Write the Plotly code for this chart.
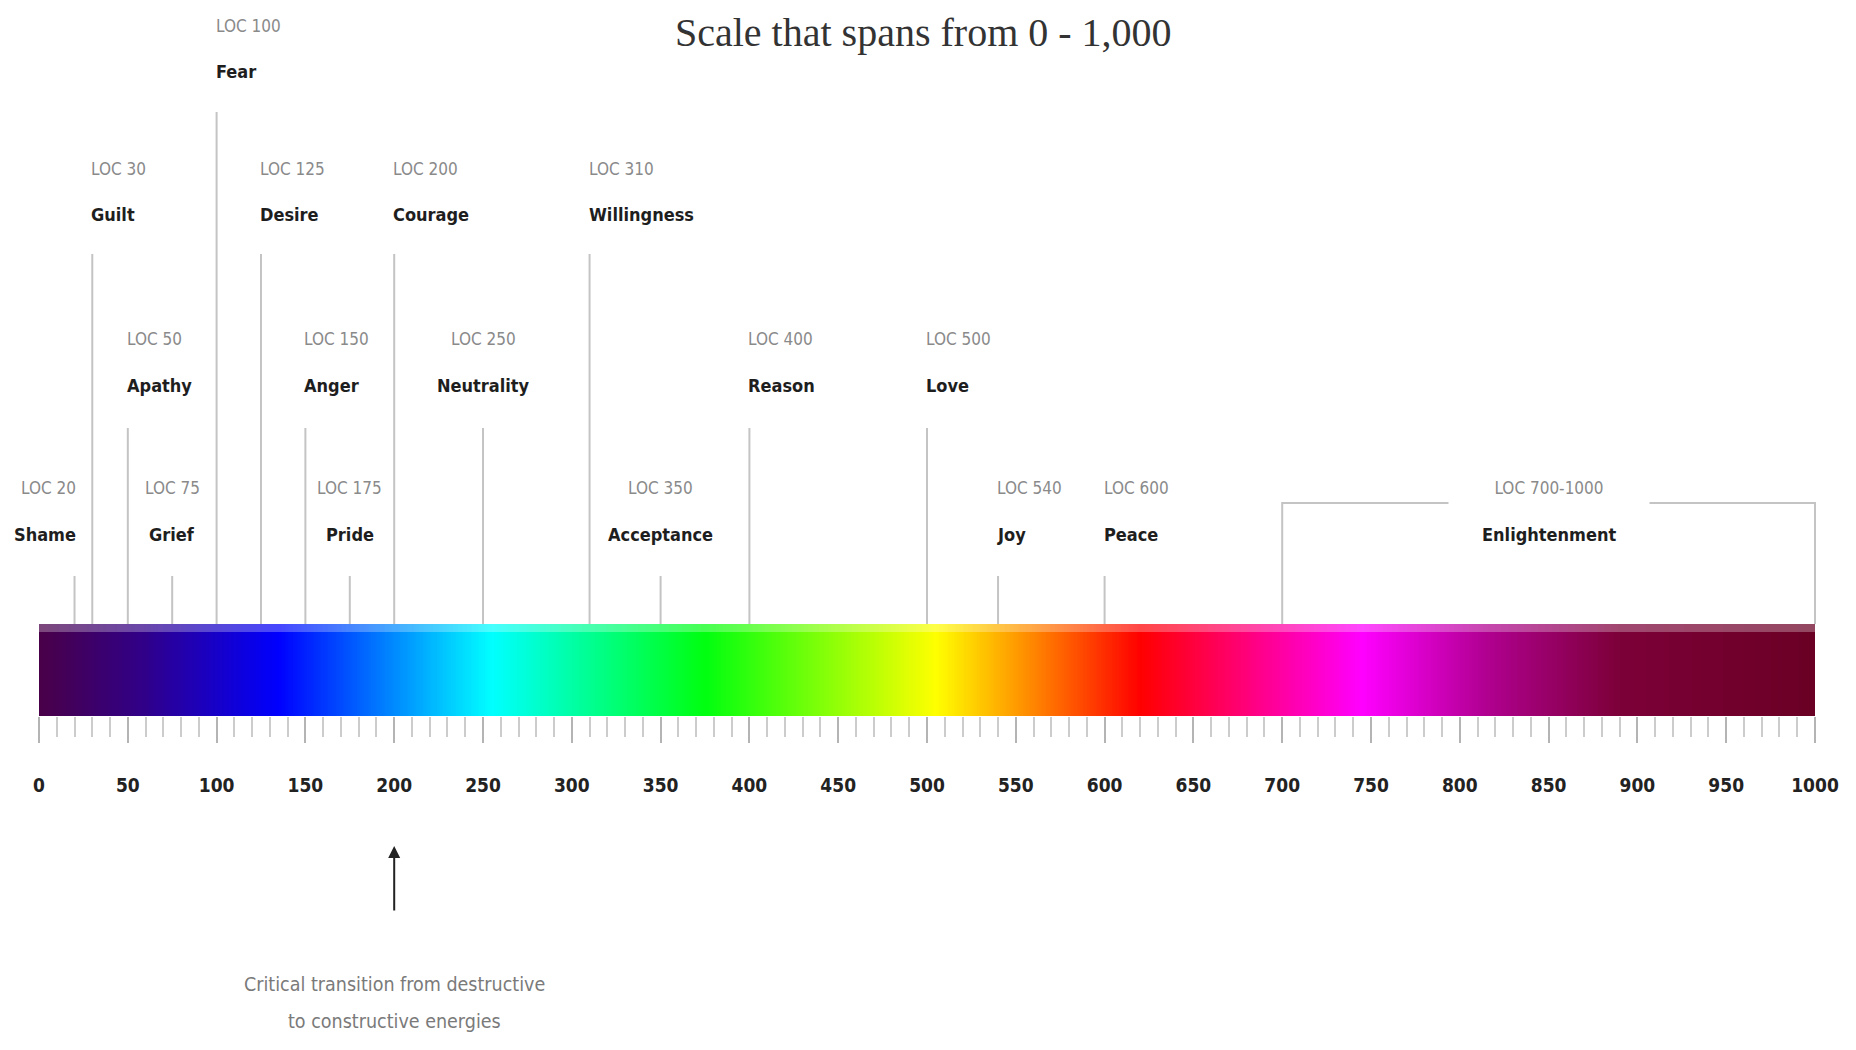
import numpy as np
import plotly.graph_objects as go

# ---------------- data ----------------
names = ["Shame", "Guilt", "Apathy", "Grief", "Fear", "Desire", "Anger", "Pride",
         "Courage", "Neutrality", "Willingness", "Acceptance", "Reason", "Love",
         "Joy", "Peace"]
levels = [20, 30, 50, 75, 100, 125, 150, 175, 200, 250, 310, 350, 400, 500, 540, 600]
enl_name = "Enlightenment"
enl_range = [700, 1000]
scale_min, scale_max = 0, 1000
tick_step = 50
minor_step = 10
transition_level = 200
title_text = "Scale that spans from 0 - 1,000"
transition_text = ["Critical transition from destructive", "to constructive energies"]

# ---------------- style / layout (page pixel coordinates) ----------------
W, H = 1856, 1050
BODY = 8                                # default page margin around the figure
FW, FH = W - 2 * BODY, H - 2 * BODY     # figure size
PX_LEFT, PX_RIGHT = 39, 1815            # page pixels of 0 and 1000
BAR_TOP, BAR_BOTTOM = 624, 716
LOC_Y = [26, 169, 339, 488]
NAME_Y = [71, 214, 385, 534]
LINE_TOP = [112, 254, 428, 576]
BRACKET_Y = 503
TITLE_CX = 923
TRANS_Y = [984, 1021]
tier = {"Fear": 0,
        "Guilt": 1, "Desire": 1, "Courage": 1, "Willingness": 1,
        "Apathy": 2, "Anger": 2, "Neutrality": 2, "Reason": 2, "Love": 2}
anchor = {"Shame": "right", "Grief": "center", "Pride": "center",
          "Neutrality": "center", "Acceptance": "center"}
colorscale = [[0.0, "#4a0048"], [0.06, "#30008a"], [0.135, "#0000ff"],
              [0.255, "#00ffff"], [0.375, "#00ff10"], [0.505, "#ffff00"],
              [0.62, "#ff0000"], [0.745, "#ff00ff"], [0.815, "#b00090"],
              [0.89, "#7c0038"], [1.0, "#6a0024"]]
NARROW = "Liberation Sans Narrow, DejaVu Sans Condensed, Arial Narrow, sans-serif"
LINE_COLOR = "#c4c4c4"

upp = (scale_max - scale_min) / (PX_RIGHT - PX_LEFT)   # units per pixel
x_lo = scale_min + (BODY - PX_LEFT) * upp
x_hi = scale_min + (W - BODY - PX_LEFT) * upp
title_x = scale_min + (TITLE_CX - PX_LEFT) * upp

fig = go.Figure()

# colour bar
edges = np.arange(scale_min, scale_max + 1, 1.0)
mids = (edges[:-1] + edges[1:]) / 2
fig.add_trace(go.Heatmap(z=[mids], x=edges, y=[BAR_TOP, BAR_BOTTOM],
                         colorscale=colorscale, zmin=scale_min, zmax=scale_max,
                         showscale=False, hoverinfo="skip"))

# leader lines
lx, ly = [], []
for n, v in zip(names, levels):
    t = tier.get(n, 3)
    lx += [v, v, None]
    ly += [BAR_TOP, LINE_TOP[t], None]
fig.add_trace(go.Scatter(x=lx, y=ly, mode="lines",
                         line=dict(color=LINE_COLOR, width=2),
                         hoverinfo="skip", showlegend=False))
# enlightenment bracket
fig.add_trace(go.Scatter(x=[enl_range[0], enl_range[0], enl_range[1], enl_range[1]],
                         y=[BAR_TOP, BRACKET_Y, BRACKET_Y, BAR_TOP], mode="lines",
                         line=dict(color=LINE_COLOR, width=2),
                         hoverinfo="skip", showlegend=False))

LOC_FONT = dict(family=NARROW, size=17, color="#8a8a8a")
NAME_FONT = dict(family=NARROW, size=18, color="#1e1e1e", weight="bold")

annotations = []
for n, v in zip(names, levels):
    t = tier.get(n, 3)
    a = anchor.get(n, "left")
    shift = {"left": -3, "right": 3, "center": 0}[a]
    annotations.append(dict(x=v, y=LOC_Y[t], text=f"LOC {v}", showarrow=False,
                            xanchor=a, yanchor="middle", xshift=shift, font=LOC_FONT))
    annotations.append(dict(x=v, y=NAME_Y[t], text=n, showarrow=False,
                            xanchor=a, yanchor="middle", xshift=shift, font=NAME_FONT))
enl_mid = (enl_range[0] + enl_range[1]) / 2
annotations.append(dict(x=enl_mid, y=LOC_Y[3],
                        text=f"LOC {enl_range[0]}-{enl_range[1]}", showarrow=False,
                        xanchor="center", yanchor="middle", width=200, height=40,
                        bgcolor="white", borderpad=0, font=LOC_FONT))
annotations.append(dict(x=enl_mid, y=NAME_Y[3], text=enl_name, showarrow=False,
                        xanchor="center", yanchor="middle", font=NAME_FONT))
# transition arrow
annotations.append(dict(x=transition_level, y=846, ax=transition_level, ay=912,
                        xref="x", yref="y", axref="x", ayref="y", text="",
                        showarrow=True, arrowhead=2, arrowsize=1.2, arrowwidth=2,
                        arrowcolor="#222"))
for yy, line in zip(TRANS_Y, transition_text):
    annotations.append(dict(x=transition_level, y=yy, text=line,
                            showarrow=False, xanchor="center", yanchor="middle",
                            font=dict(family=NARROW, size=19.5, color="#7a7a7a")))
# title at the top edge
annotations.append(dict(x=title_x, y=BODY, text=title_text,
                        showarrow=False, xanchor="center", yanchor="top",
                        font=dict(family="Liberation Serif, serif", size=40,
                                  color="#333333")))

fig.update_layout(
    width=FW, height=FH, margin=dict(l=0, r=0, t=0, b=0),
    paper_bgcolor="white", plot_bgcolor="white", showlegend=False,
    annotations=annotations,
    shapes=[dict(type="rect", xref="x", yref="y", x0=scale_min, x1=scale_max,
                 y0=BAR_TOP, y1=BAR_TOP + 8, fillcolor="white", opacity=0.28,
                 line=dict(width=0), layer="above")],
    xaxis=dict(range=[x_lo, x_hi], anchor="free",
               position=1 - (BAR_BOTTOM - BODY) / FH,
               side="bottom", showgrid=False, zeroline=False, showline=False,
               ticks="outside", tickmode="linear", tick0=scale_min, dtick=tick_step,
               ticklen=26, tickwidth=2, tickcolor="#b4b4b4", ticklabelstandoff=26,
               tickfont=dict(family=NARROW, size=19, color="#222222", weight="bold"),
               minor=dict(ticks="outside", tickmode="array",
                          tickvals=list(range(scale_min, scale_max + 1, minor_step)),
                          ticklen=20, tickwidth=2, tickcolor="#cccccc"),
               fixedrange=True),
    yaxis=dict(range=[H - BODY, BODY], visible=False, fixedrange=True),
)

fig.write_html("out.html", config={"displayModeBar": False})
